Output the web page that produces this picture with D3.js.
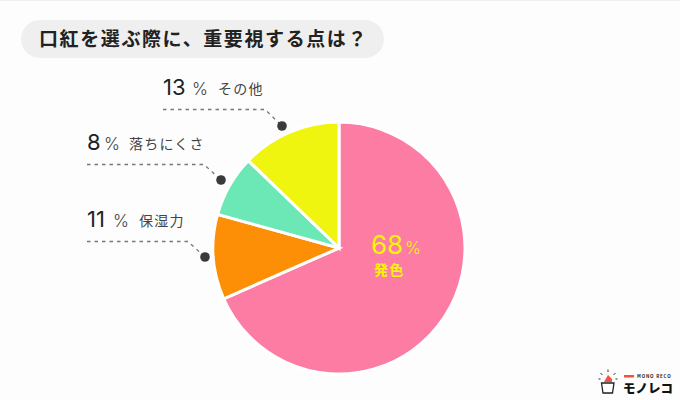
<!DOCTYPE html>
<html>
<head>
<meta charset="utf-8">
<script src="https://cdn.jsdelivr.net/npm/d3@7"></script>
<style>
html, body { margin: 0; padding: 0; background: #fff; }
svg { display: block; }
text { font-family: "Noto Sans CJK JP", sans-serif; }
.num { font-family: "Inter", "Noto Sans", sans-serif; }
</style>
</head>
<body>
<svg id="chart"></svg>
<script>
var w = 680, h = 400;
var title = "口紅を選ぶ際に、重要視する点は？";
var categories = ["発色", "保湿力", "落ちにくさ", "その他"];
var percentLabels = ["68", "11", "8", "13"];
// slice sizes as drawn in the picture, they differ a little from the printed labels
var values = [68.4, 10.9, 7.9, 12.8];
var colors = ["#fc7ca4", "#fc8f05", "#6be8b6", "#f0f50f"];

// label placement, same order as categories (first one sits inside the pie)
var labelX = [null, 87, 87, 163];
var labelY = [null, 227, 150, 95];
var percentX = [null, 113, 104, 192];
var nameX = [null, 139, 129, 218];
var lineEnd = [null, 188, 204, 265];
var dots = [null, [205, 257], [221, 180], [282, 126]];

var cx = 339, cy = 248, r = 126;

var svg = d3.select("#chart").attr("width", w).attr("height", h);

svg.append("rect").attr("width", w).attr("height", h).attr("fill", "#fdfdfd");
svg.append("rect").attr("width", w).attr("height", 1).attr("fill", "#f0f0f0");

// title pill
svg.append("rect")
	.attr("x", 21).attr("y", 20)
	.attr("width", 363).attr("height", 38)
	.attr("rx", 19)
	.attr("fill", "#efefef");
svg.append("text")
	.attr("x", 39).attr("y", 46)
	.attr("font-size", 19)
	.attr("font-weight", 700)
	.attr("letter-spacing", 1.6)
	.attr("fill", "#222")
	.text(title);

// pie
var pie = d3.pie().sort(null)(values);
var arc = d3.arc().innerRadius(0).outerRadius(r);
var g = svg.append("g").attr("transform", "translate(" + cx + "," + cy + ")");

g.selectAll("path")
	.data(pie)
	.enter()
	.append("path")
	.attr("d", arc)
	.attr("fill", function(d, i) { return colors[i]; })
	.attr("stroke", "#fff")
	.attr("stroke-width", 3)
	.attr("stroke-linejoin", "miter");

// inside label
svg.append("text").attr("class", "num")
	.attr("x", 371).attr("y", 254)
	.attr("font-size", 26)
	.attr("fill", "#f8f508")
	.text(percentLabels[0]);
svg.append("text").attr("class", "num")
	.attr("x", 405).attr("y", 254)
	.attr("font-size", 17)
	.attr("font-weight", 300)
	.attr("fill", "#f8f508")
	.text("%");
svg.append("text")
	.attr("x", 374).attr("y", 275)
	.attr("font-size", 14)
	.attr("font-weight", 700)
	.attr("letter-spacing", 1.2)
	.attr("fill", "#f8f508")
	.text(categories[0]);

// outside labels
pie.forEach(function(d, i) {
	if (i == 0) return;
	var dx = dots[i][0], dy = dots[i][1];
	var lineY = labelY[i] + 14.5;

	svg.append("text").attr("class", "num")
		.attr("x", labelX[i]).attr("y", labelY[i])
		.attr("font-size", 22)
		.attr("fill", "#222")
		.text(percentLabels[i]);
	svg.append("text").attr("class", "num")
		.attr("x", percentX[i]).attr("y", labelY[i])
		.attr("font-size", 17)
		.attr("font-weight", 300)
		.attr("fill", "#444")
		.text("%");
	svg.append("text")
		.attr("x", nameX[i]).attr("y", labelY[i] - 1)
		.attr("font-size", 14)
		.attr("letter-spacing", 1.2)
		.attr("fill", "#444")
		.text(categories[i]);

	svg.append("path")
		.attr("d", "M" + labelX[i] + "," + lineY + "H" + lineEnd[i] + "L" + dx + "," + dy)
		.attr("fill", "none")
		.attr("stroke", "#777")
		.attr("stroke-width", 1.3)
		.attr("stroke-dasharray", "3.5 4");
	svg.append("circle")
		.attr("cx", dx).attr("cy", dy)
		.attr("r", 4.8)
		.attr("fill", "#3a3a3a");
});

// logo
var logo = svg.append("g").attr("transform", "translate(580,350)");
logo.append("path")
	.attr("d", "M21.5,33 L23,43 H32.5 L34,33 Z")
	.attr("fill", "#fff")
	.attr("stroke", "#222")
	.attr("stroke-width", 1.3);
logo.append("path")
	.attr("d", "M24,32 L28,25 L32,29 L32,32 Z")
	.attr("fill", "#f0533f");
logo.append("path")
	.attr("d", "M28,19.5V22 M20.5,23L22.5,25 M35.5,23L33.5,25 M18.5,29H20.5 M35.5,29H37.5")
	.attr("stroke", "#333")
	.attr("stroke-width", 1);
logo.append("rect").attr("x", 44).attr("y", 25).attr("width", 10).attr("height", 2.5).attr("fill", "#f0533f");
logo.append("text")
	.attr("x", 57).attr("y", 28)
	.attr("font-size", 4.5)
	.attr("font-weight", 700)
	.attr("letter-spacing", 0.8)
	.attr("fill", "#222")
	.text("MONO RECO");
logo.append("text")
	.attr("x", 43).attr("y", 43)
	.attr("font-size", 12.5)
	.attr("font-weight", 900)
	.attr("fill", "#111")
	.text("モノレコ");
</script>
</body>
</html>
